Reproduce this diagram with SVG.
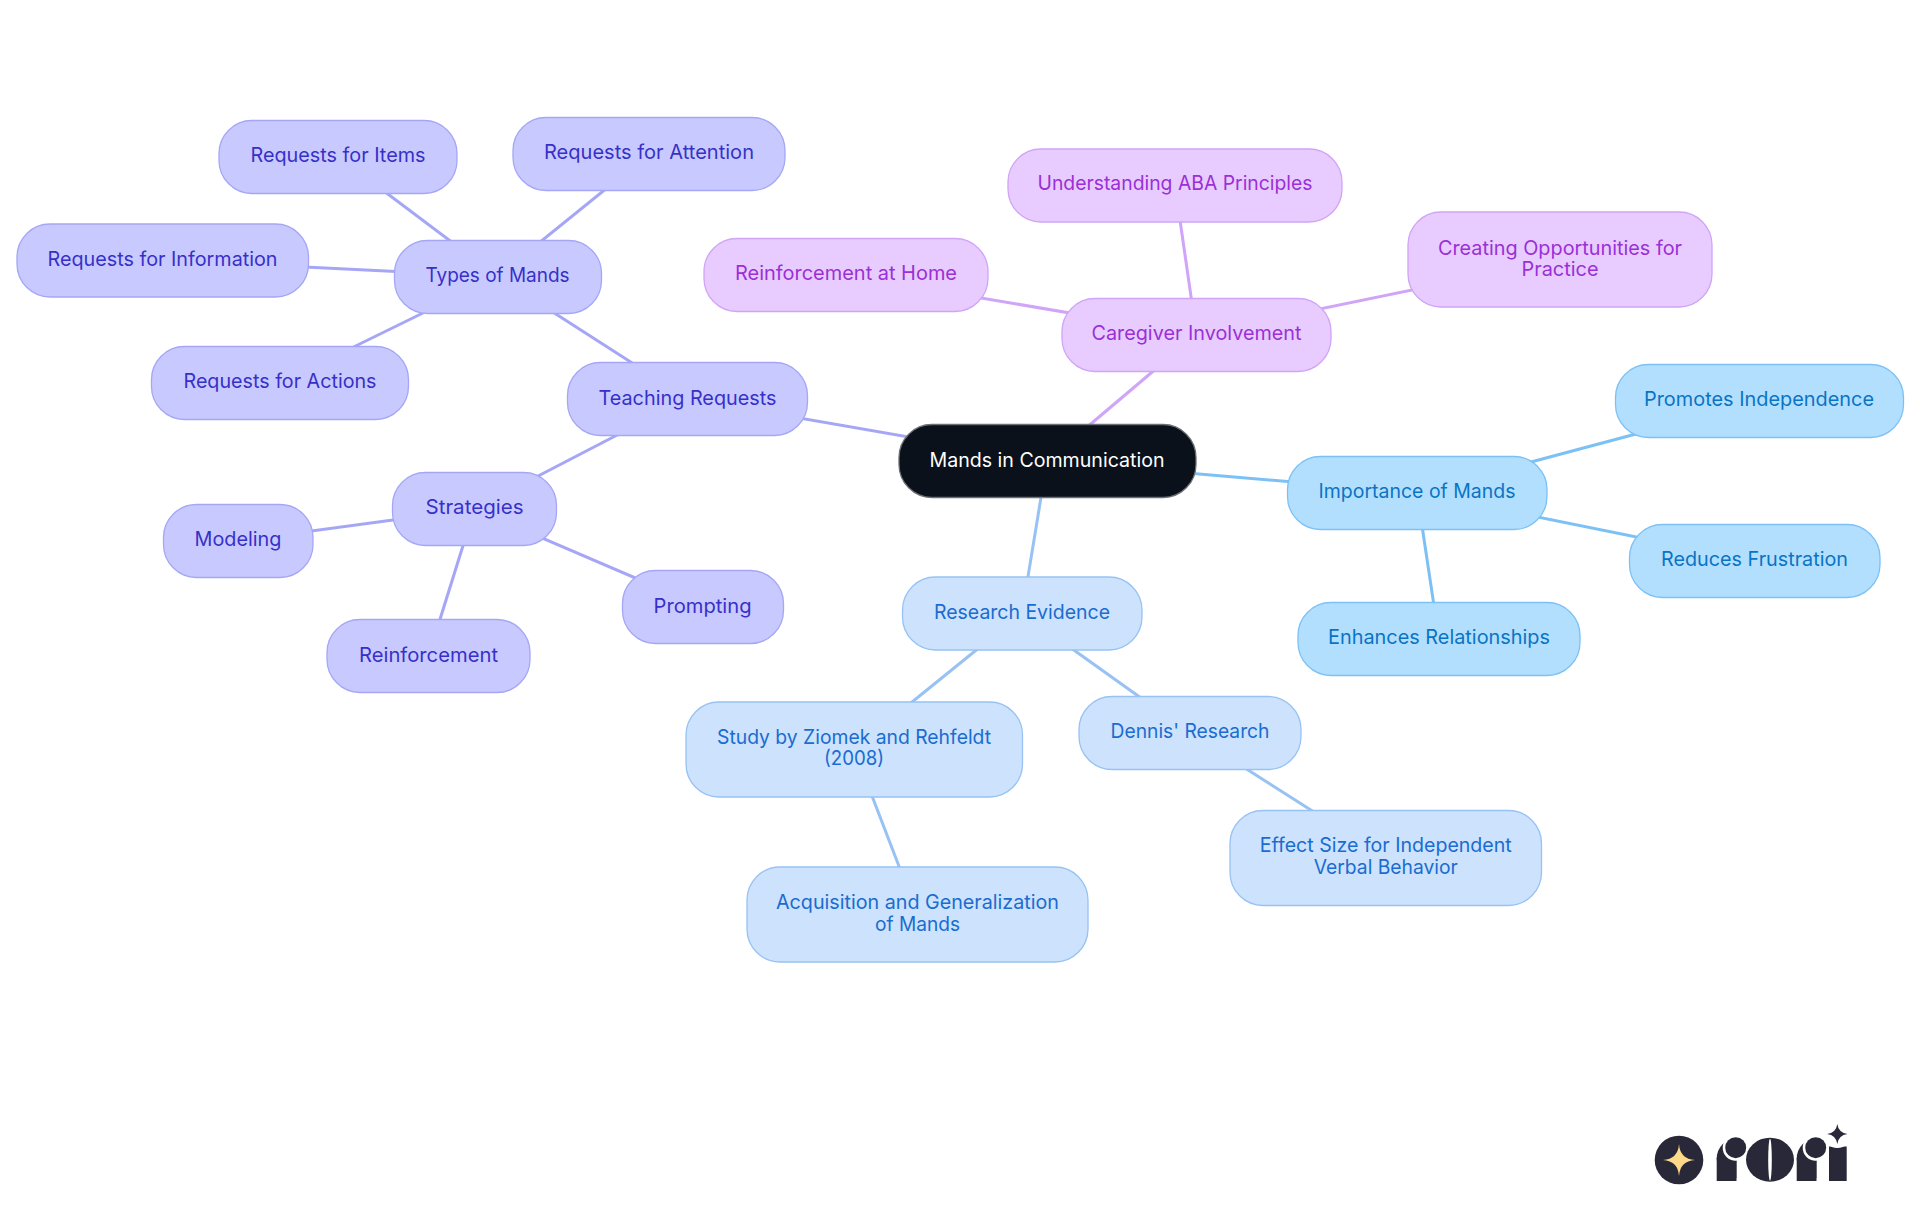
<svg xmlns="http://www.w3.org/2000/svg" width="1920" height="1215" viewBox="0 0 1920 1215">
<style>
text{font-family:"Inter","Noto Sans",sans-serif;font-size:20px;font-weight:400;text-anchor:middle}
.e{fill:none;stroke-width:3}
.ei{stroke:#a5a6f6}.ep{stroke:#d0a4f7}.es{stroke:#7cc1f5}.eb{stroke:#97c2f3}
rect.n{stroke-width:1.3}
.i rect.n{fill:#c8caff;stroke:#a5a6f6}.i text{fill:#3730c8}
.p rect.n{fill:#e8ccff;stroke:#d0a4f7}.p text{fill:#9a30d6}
.s rect.n{fill:#b3dfff;stroke:#7cc1f5}.s text{fill:#0a74c4}
.b rect.n{fill:#cce2fd;stroke:#97c2f3}.b text{fill:#1a6cd0}
.r rect.n{fill:#0a111a;stroke:#6b7075}.r text{fill:#fff}
.d{fill:#292839}.w{fill:#fff}
</style>
<g id="connectors">
<path class="e ei" d="M1047 461L687.5 398.5"/>
<path class="e ei" d="M687.5 398.5L497.5 276.5"/>
<path class="e ei" d="M687.5 398.5L474.5 509"/>
<path class="e ei" d="M497.5 276.5L338 156.5"/>
<path class="e ei" d="M497.5 276.5L649 154"/>
<path class="e ei" d="M497.5 276.5L162.5 260"/>
<path class="e ei" d="M497.5 276.5L280 383"/>
<path class="e ei" d="M474.5 509L238 541"/>
<path class="e ei" d="M474.5 509L428.5 656"/>
<path class="e ei" d="M474.5 509L703 607"/>
<path class="e ep" d="M1047 461L1196.5 334.5"/>
<path class="e ep" d="M1196.5 334.5L1175 185.5"/>
<path class="e ep" d="M1196.5 334.5L846 275"/>
<path class="e ep" d="M1196.5 334.5L1560 259.5"/>
<path class="e es" d="M1047 461L1417 492.5"/>
<path class="e es" d="M1417 492.5L1759.5 401"/>
<path class="e es" d="M1417 492.5L1755 561"/>
<path class="e es" d="M1417 492.5L1439 639"/>
<path class="e eb" d="M1047 461L1022 613"/>
<path class="e eb" d="M1022 613L854 749"/>
<path class="e eb" d="M1022 613L1190 733"/>
<path class="e eb" d="M854 749L917.500 914.500"/>
<path class="e eb" d="M1190 733L1385.750 857.750"/>
</g>
<g id="root" class="r"><rect class="n" x="899" y="424.500" width="297" height="73" rx="33"/><text x="1047" y="467" textLength="235" lengthAdjust="spacingAndGlyphs">Mands in Communication</text></g>
<g id="teaching" class="i"><rect class="n" x="567.500" y="362.500" width="240" height="73" rx="33"/><text x="687.500" y="404.500" textLength="178" lengthAdjust="spacingAndGlyphs">Teaching Requests</text></g>
<g id="types" class="i"><rect class="n" x="394.500" y="240.500" width="207" height="73" rx="33"/><text x="497.500" y="282" textLength="144" lengthAdjust="spacingAndGlyphs">Types of Mands</text></g>
<g id="items" class="i"><rect class="n" x="219" y="120.500" width="238" height="73" rx="33"/><text x="338" y="162" textLength="175" lengthAdjust="spacingAndGlyphs">Requests for Items</text></g>
<g id="attention" class="i"><rect class="n" x="513" y="117.500" width="272" height="73" rx="33"/><text x="649" y="158.500" textLength="210" lengthAdjust="spacingAndGlyphs">Requests for Attention</text></g>
<g id="information" class="i"><rect class="n" x="17" y="224" width="291.500" height="73" rx="33"/><text x="162.500" y="266" textLength="230" lengthAdjust="spacingAndGlyphs">Requests for Information</text></g>
<g id="actions" class="i"><rect class="n" x="151.500" y="346.500" width="257" height="73" rx="33"/><text x="280" y="388" textLength="193" lengthAdjust="spacingAndGlyphs">Requests for Actions</text></g>
<g id="strategies" class="i"><rect class="n" x="392.500" y="472.500" width="164" height="73" rx="33"/><text x="474.500" y="514" textLength="98" lengthAdjust="spacingAndGlyphs">Strategies</text></g>
<g id="modeling" class="i"><rect class="n" x="163.500" y="504.500" width="149.500" height="73" rx="33"/><text x="238" y="546" textLength="87" lengthAdjust="spacingAndGlyphs">Modeling</text></g>
<g id="reinforcement" class="i"><rect class="n" x="327" y="619.500" width="203" height="73" rx="33"/><text x="428.500" y="661.500" textLength="139" lengthAdjust="spacingAndGlyphs">Reinforcement</text></g>
<g id="prompting" class="i"><rect class="n" x="622.500" y="570.500" width="161" height="73" rx="33"/><text x="702.500" y="612.500" textLength="98" lengthAdjust="spacingAndGlyphs">Prompting</text></g>
<g id="caregiver" class="p"><rect class="n" x="1062" y="298.500" width="269" height="73" rx="33"/><text x="1196.500" y="340" textLength="210" lengthAdjust="spacingAndGlyphs">Caregiver Involvement</text></g>
<g id="aba" class="p"><rect class="n" x="1008" y="149" width="334" height="73" rx="33"/><text x="1175" y="190" textLength="275" lengthAdjust="spacingAndGlyphs">Understanding ABA Principles</text></g>
<g id="home" class="p"><rect class="n" x="704" y="238.500" width="284" height="73" rx="33"/><text x="846" y="280" textLength="222" lengthAdjust="spacingAndGlyphs">Reinforcement at Home</text></g>
<g id="creating" class="p"><rect class="n" x="1408" y="212" width="304" height="95" rx="33"/><text x="1560" y="255" textLength="244" lengthAdjust="spacingAndGlyphs">Creating Opportunities for</text><text x="1560" y="276" textLength="77" lengthAdjust="spacingAndGlyphs">Practice</text></g>
<g id="importance" class="s"><rect class="n" x="1287.500" y="456.500" width="259.500" height="73" rx="33"/><text x="1417" y="498" textLength="197" lengthAdjust="spacingAndGlyphs">Importance of Mands</text></g>
<g id="promotes" class="s"><rect class="n" x="1615.500" y="364.500" width="288" height="73" rx="33"/><text x="1759" y="406" textLength="230" lengthAdjust="spacingAndGlyphs">Promotes Independence</text></g>
<g id="reduces" class="s"><rect class="n" x="1629.500" y="524.500" width="250.500" height="73" rx="33"/><text x="1754.500" y="566" textLength="187" lengthAdjust="spacingAndGlyphs">Reduces Frustration</text></g>
<g id="enhances" class="s"><rect class="n" x="1298" y="602.500" width="282" height="73" rx="33"/><text x="1439" y="644" textLength="222" lengthAdjust="spacingAndGlyphs">Enhances Relationships</text></g>
<g id="research" class="b"><rect class="n" x="902.500" y="577" width="239.500" height="73" rx="33"/><text x="1022" y="618.500" textLength="176" lengthAdjust="spacingAndGlyphs">Research Evidence</text></g>
<g id="study" class="b"><rect class="n" x="686" y="702" width="336.500" height="95" rx="33"/><text x="854" y="744" textLength="274" lengthAdjust="spacingAndGlyphs">Study by Ziomek and Rehfeldt</text><text x="854" y="765" textLength="60" lengthAdjust="spacingAndGlyphs">(2008)</text></g>
<g id="dennis" class="b"><rect class="n" x="1079" y="696.500" width="222" height="73" rx="33"/><text x="1190" y="738" textLength="159" lengthAdjust="spacingAndGlyphs">Dennis' Research</text></g>
<g id="effect" class="b"><rect class="n" x="1230" y="810.500" width="311.500" height="95" rx="33"/><text x="1385.750" y="852" textLength="252" lengthAdjust="spacingAndGlyphs">Effect Size for Independent</text><text x="1385.750" y="874" textLength="144" lengthAdjust="spacingAndGlyphs">Verbal Behavior</text></g>
<g id="acquisition" class="b"><rect class="n" x="747" y="867" width="341" height="95" rx="33"/><text x="917.500" y="909" textLength="283" lengthAdjust="spacingAndGlyphs">Acquisition and Generalization</text><text x="917.500" y="931" textLength="85" lengthAdjust="spacingAndGlyphs">of Mands</text></g>
<g id="logo">
<circle class="d" cx="1679" cy="1160" r="24.300"/>
<path fill="#ffd98a" d="M1679 1144Q1680 1159 1695 1160Q1680 1161 1679 1176Q1678 1161 1663 1160Q1678 1159 1679 1144Z"/>
<circle class="d" cx="1736.700" cy="1158.300" r="20"/><rect class="d" x="1716.700" y="1158" width="20" height="23"/><rect class="w" x="1736.700" y="1136" width="22" height="47"/><circle class="w" cx="1735.700" cy="1147.700" r="13"/><circle class="d" cx="1735.700" cy="1147.700" r="10.500"/>
<ellipse class="d" cx="1770" cy="1159.700" rx="24" ry="22"/><ellipse class="w" cx="1770" cy="1159.700" rx="1.800" ry="21"/>
<circle class="d" cx="1816.700" cy="1158.300" r="20"/><rect class="d" x="1796.700" y="1158" width="20" height="23"/><rect class="w" x="1816.700" y="1136" width="22" height="47"/><circle class="w" cx="1815.700" cy="1147.700" r="13"/><circle class="d" cx="1815.700" cy="1147.700" r="10.500"/>
<rect class="d" x="1829" y="1146.500" width="17.700" height="34.500"/><circle class="w" cx="1837.300" cy="1134" r="14"/>
<path class="d" d="M1837.300 1124Q1838.500 1132.800 1847.500 1134Q1838.500 1135.200 1837.300 1144Q1836.100 1135.200 1827.100 1134Q1836.100 1132.800 1837.300 1124Z"/>
</g>
</svg>
